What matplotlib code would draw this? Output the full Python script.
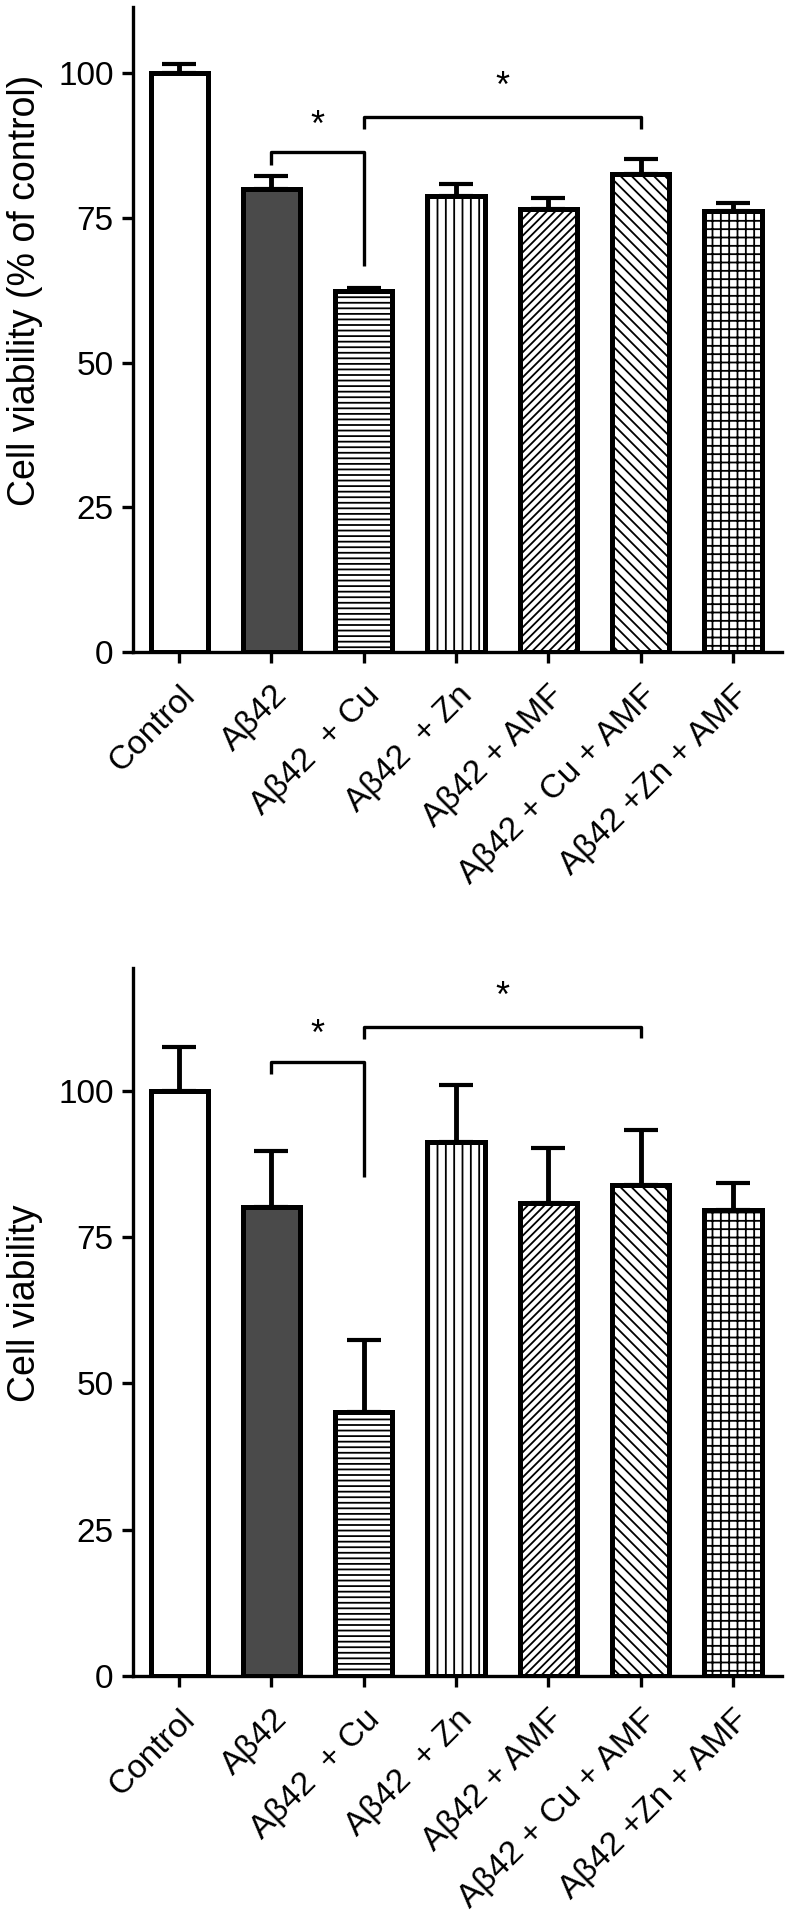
import numpy as np
import matplotlib
matplotlib.use("Agg")
import matplotlib.pyplot as plt

plt.rcParams['font.family'] = ['Liberation Sans', 'DejaVu Sans']
plt.rcParams['hatch.linewidth'] = 1.3

# groups on the x axis
groups = ["Control", "Aβ42", "Aβ42  + Cu", "Aβ42  + Zn", "Aβ42 + AMF",
          "Aβ42 + Cu + AMF", "Aβ42 +Zn + AMF"]

# top panel: % of control
top_vals = [100.0, 80.0, 62.3, 78.8, 76.5, 82.5, 76.2]
top_err = [1.5, 2.2, 0.6, 2.0, 2.0, 2.7, 1.4]
top_ylabel = "Cell viability (% of control)"

# bottom panel
bot_vals = [100.0, 80.1, 45.2, 91.3, 80.9, 83.9, 79.7]
bot_err = [7.5, 9.6, 12.2, 9.7, 9.4, 9.5, 4.5]
bot_ylabel = "Cell viability"

# significance brackets: (x1, x2, left leg end, bar height, right leg end, star y)
top_brackets = [(1, 2, 84.1, 86.4, 66.7, 90.7), (2, 5, 90.4, 92.5, 90.4, 97.5)]
bot_brackets = [(1, 2, 102.8, 104.9, 85.2, 109.5), (2, 5, 108.9, 111.0, 109.1, 115.9)]

fills = ["white", "#4a4a4a", "white", "white", "white", "white", "white"]
hatches = [None, None, "---", "||", "////", "\\\\\\", "++"]


def draw_panel(ax, vals, err, brackets, ylabel, ytop, label_y):
    x = np.arange(len(groups))
    ax.errorbar(x, vals, yerr=[np.zeros(len(err)), err], fmt="none", ecolor="black",
                elinewidth=3.5, capsize=12, capthick=3, zorder=1)
    ax.bar(x, vals, width=0.62, color=fills, edgecolor="black", linewidth=3.6,
           hatch=hatches, zorder=2)

    for x1, x2, y1, h, y2, sy in brackets:
        ax.plot([x1, x1, x2, x2], [y1, h, h, y2], color="black", lw=2.4,
                solid_capstyle="butt", zorder=3)
        ax.text((x1 + x2) / 2, sy, "*", ha="center", va="center", fontsize=26)

    ax.set_xlim(-0.5, 6.53)
    ax.set_ylim(0, ytop)
    ax.set_yticks([0, 25, 50, 75, 100])
    ax.set_xticks(x)
    ax.set_xticklabels(groups, rotation=45, ha="right", rotation_mode="anchor",
                       fontsize=24)
    ax.tick_params(axis="y", labelsize=24, length=8, width=2.4, pad=6)
    ax.tick_params(axis="x", length=8, width=2.4, pad=12)
    for s in ["top", "right"]:
        ax.spines[s].set_visible(False)
    for s in ["left", "bottom"]:
        ax.spines[s].set_linewidth(2.4)
    ax.set_ylabel(ylabel, fontsize=27)
    ax.yaxis.set_label_coords(-0.167, label_y)
    ax.yaxis.label.set_verticalalignment("center")


fig = plt.figure(figsize=(7.93, 19.2), dpi=100)
ax1 = fig.add_axes([0.1677, 0.6604, 0.8184, 0.3359])
ax2 = fig.add_axes([0.1677, 0.12708, 0.8184, 0.36875])

draw_panel(ax1, top_vals, top_err, top_brackets, top_ylabel, 111.4, 0.561)
draw_panel(ax2, bot_vals, bot_err, bot_brackets, bot_ylabel, 121.0, 0.527)

fig.savefig("out.png", dpi=100)
